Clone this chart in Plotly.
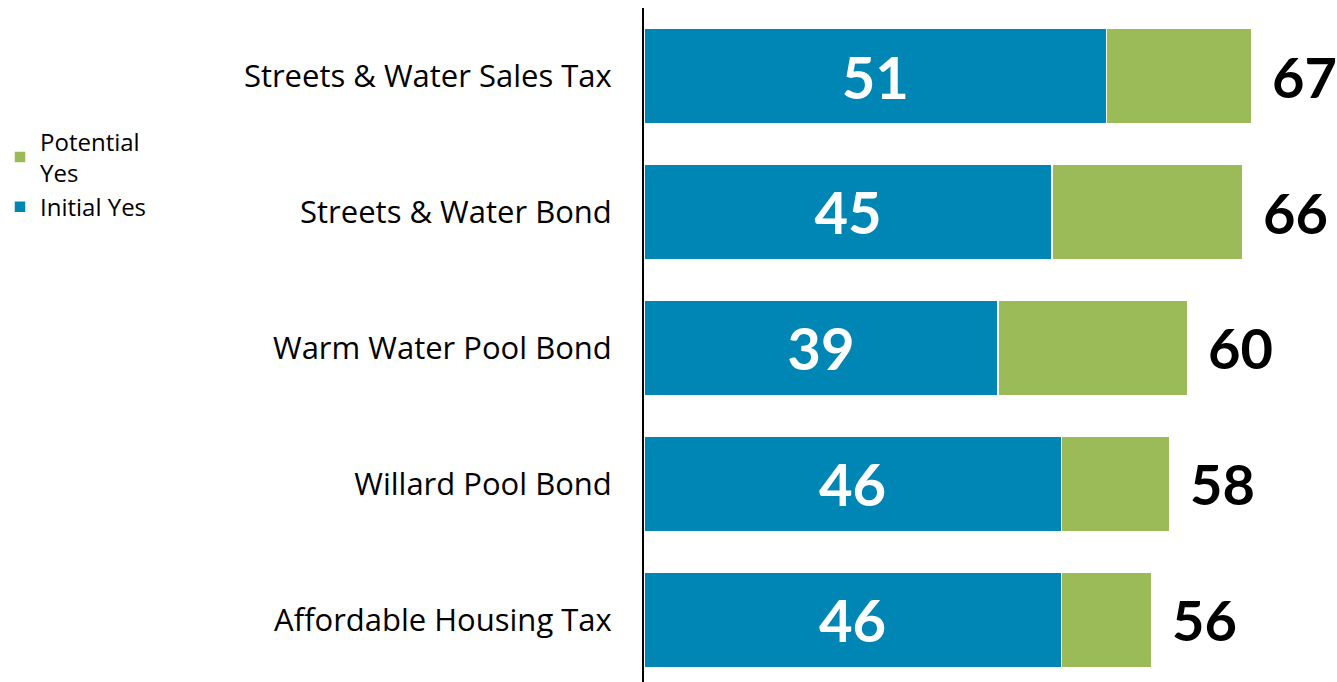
import plotly.graph_objects as go

categories = ["Streets & Water Sales Tax", "Streets & Water Bond", "Warm Water Pool Bond",
              "Willard Pool Bond", "Affordable Housing Tax"]
initial_yes = [51, 45, 39, 46, 46]
potential_yes = [16, 21, 21, 12, 10]
totals = [67, 66, 60, 58, 56]

BLUE = "#0086B4"
GREEN = "#9BBB59"
FONT = "Open Sans"
NUMFONT = "Lato"

fig = go.Figure()
fig.add_trace(go.Bar(
    y=categories, x=initial_yes, orientation="h", name="Initial Yes",
    marker=dict(color=BLUE, line=dict(color="white", width=1.5)),
    text=[str(v) for v in initial_yes], textposition="inside",
    insidetextanchor="middle", constraintext="none",
    textfont=dict(family=NUMFONT, size=58, color="white", weight="bold"),
    hoverinfo="x+y",
))
fig.add_trace(go.Bar(
    y=categories, x=potential_yes, orientation="h", name="Potential<br>Yes",
    marker=dict(color=GREEN, line=dict(color="white", width=1.5)),
    hoverinfo="x+y",
))

for c, t in zip(categories, totals):
    fig.add_annotation(x=t, y=c, text=str(t), showarrow=False, xanchor="left",
                       xshift=19, borderpad=0,
                       font=dict(family=NUMFONT, size=56, color="black", weight="bold"))

fig.update_layout(
    width=1337, height=682,
    barmode="stack", bargap=0.3,
    plot_bgcolor="white", paper_bgcolor="white",
    margin=dict(l=644, r=0, t=8, b=0),
    font=dict(family=FONT, color="black"),
    showlegend=True,
    legend=dict(xref="container", yref="container", x=0, y=0.825,
                xanchor="left", yanchor="top", traceorder="reversed",
                font=dict(family=FONT, size=24, color="black"),
                itemwidth=30, tracegroupgap=0, bgcolor="rgba(0,0,0,0)"),
    xaxis=dict(range=[0, 76.4], visible=False, fixedrange=True),
    yaxis=dict(range=[4.456, -0.5], showline=True, linecolor="black", linewidth=2,
               showgrid=False, ticks="", ticklabelstandoff=24,
               tickfont=dict(family=FONT, size=31, color="black"), fixedrange=True),
)

fig.write_html("out.html", config={"displayModeBar": False},
               post_script="document.body.style.margin='0';document.body.style.overflow='hidden';")
